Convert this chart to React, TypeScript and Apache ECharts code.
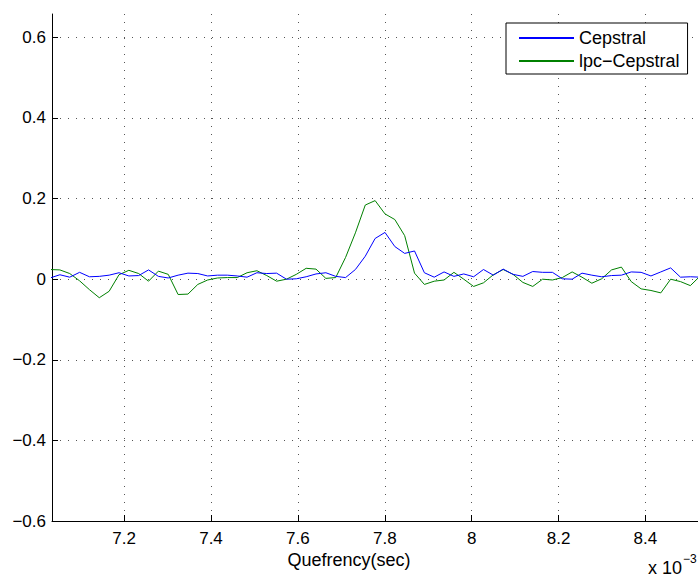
import { useEffect, useRef } from "react";
import * as echarts from "echarts";

// Sampling: quefrency = sample index / sample rate (shown in units of 10^-3 s)
const SAMPLE_RATE = 44100;
const FIRST_SAMPLE = 310;

const cepstral = [
  0.003, 0.011, 0.005, 0.017, 0.006, 0.007, 0.010, 0.016, 0.008, 0.009,
  0.023, 0.007, 0.003, 0.010, 0.015, 0.014, 0.008, 0.010, 0.010, 0.008,
  0.005, 0.016, 0.014, 0.015, 0.000, 0.001, 0.006, 0.013, 0.016, 0.007,
  0.004, 0.024, 0.057, 0.101, 0.116, 0.081, 0.064, 0.070, 0.016, 0.005,
  0.018, 0.007, 0.013, 0.006, 0.024, 0.010, 0.025, 0.012, 0.007, 0.019,
  0.017, 0.017, 0.001, 0.000, 0.015, 0.010, 0.006, 0.009, 0.010, 0.018,
  0.017, 0.008, 0.018, 0.028, 0.005, 0.006, 0.005,
];

const lpcCepstral = [
  0.024, 0.023, 0.014, -0.004, -0.026, -0.046, -0.030, 0.011, 0.022, 0.014,
  -0.005, 0.020, 0.012, -0.038, -0.037, -0.013, -0.002, 0.003, 0.004, 0.004,
  0.016, 0.021, 0.009, -0.005, 0.000, 0.012, 0.027, 0.025, 0.002, 0.004,
  0.054, 0.115, 0.184, 0.195, 0.162, 0.148, 0.108, 0.015, -0.013, -0.005,
  -0.002, 0.017, 0.000, -0.018, -0.009, 0.011, 0.024, 0.012, -0.008, -0.018,
  0.000, -0.002, 0.004, 0.018, 0.005, -0.010, 0.001, 0.023, 0.030, -0.006,
  -0.024, -0.028, -0.034, 0.000, -0.006, -0.016, 0.008,
];

const SERIES_NAMES = ["Cepstral", "lpc\u2212Cepstral"];
const X_TICKS = [7.2, 7.4, 7.6, 7.8, 8.0, 8.2, 8.4];
const Y_TICKS = [-0.6, -0.4, -0.2, 0, 0.2, 0.4, 0.6];
const X_MIN = 7.034;
const X_MAX = 8.521;
const Y_MIN = -0.6;
const Y_MAX = 0.658;
const X_LABEL = "Quefrency(sec)";
const X_MULT = "x 10";
const X_MULT_EXP = "\u22123";

const FONT = "'Liberation Sans', Arial, Helvetica, sans-serif";

function toPairs(values: number[]) {
  return values.map((v, i) => [((FIRST_SAMPLE + i) / SAMPLE_RATE) * 1000, v]);
}

function fmt(v: number) {
  const s = String(Number(v.toFixed(1)));
  return s.replace("-", "\u2212");
}

export default function App() {
  const ref = useRef<HTMLDivElement>(null);

  useEffect(() => {
    if (!ref.current) return;
    const chart = echarts.init(ref.current, undefined, { renderer: "svg" });
    const grid = "#555";
    chart.setOption({
      animation: false,
      backgroundColor: "#ffffff",
      textStyle: { fontFamily: FONT },
      grid: { left: 52, right: 0, top: 14, bottom: 56, containLabel: false },
      xAxis: {
        type: "value",
        min: X_MIN,
        max: X_MAX,
        minInterval: 0.2,
        maxInterval: 0.2,
        axisLine: { show: true, onZero: false, lineStyle: { color: "#000", width: 1 } },
        axisTick: { show: true, inside: true, length: 6, lineStyle: { color: "#000" }, customValues: X_TICKS },
        axisLabel: {
          color: "#000",
          fontSize: 17,
          fontFamily: FONT,
          margin: 9,
          showMinLabel: true,
          showMaxLabel: true,
          customValues: X_TICKS,
          formatter: (v: number) => fmt(v),
        },
        splitLine: {
          show: true,
          showMinLine: true,
          showMaxLine: true,
          lineStyle: { color: grid, width: 1, type: [1, 7] },
        },
      },
      yAxis: {
        type: "value",
        min: Y_MIN,
        max: Y_MAX,
        interval: 0.2,
        axisLine: { show: true, onZero: false, lineStyle: { color: "#000", width: 1 } },
        axisTick: { show: true, inside: true, length: 6, lineStyle: { color: "#000" }, customValues: Y_TICKS },
        axisLabel: {
          color: "#000",
          fontSize: 17,
          fontFamily: FONT,
          margin: 6,
          showMinLabel: true,
          showMaxLabel: true,
          customValues: Y_TICKS,
          formatter: (v: number) => fmt(v),
        },
        splitLine: {
          show: true,
          showMinLine: true,
          showMaxLine: true,
          lineStyle: { color: grid, width: 1, type: [1, 7] },
        },
      },
      legend: {
        orient: "vertical",
        left: 506,
        top: 23,
        padding: [6, 8, 4, 12],
        itemGap: 5,
        itemWidth: 55,
        itemHeight: 14,
        backgroundColor: "#ffffff",
        borderColor: "#000",
        borderWidth: 1,
        borderRadius: 0,
        textStyle: { color: "#000", fontSize: 18, fontFamily: FONT },
        data: SERIES_NAMES.map((n) => ({ name: n, itemStyle: { opacity: 0 } })),
      },
      graphic: [
        {
          type: "text",
          left: "center",
          top: 551,
          style: { text: X_LABEL, fontSize: 18, fontFamily: FONT, fill: "#000" },
          z: 10,
        },
        {
          type: "text",
          x: 648,
          y: 568,
          style: { text: X_MULT, fontSize: 18, fontFamily: FONT, fill: "#000", verticalAlign: "middle", align: "left" },
        },
        {
          type: "text",
          x: 683,
          y: 559,
          style: { text: X_MULT_EXP, fontSize: 12, fontFamily: FONT, fill: "#000", verticalAlign: "middle", align: "left" },
        },
      ],
      series: [
        {
          name: SERIES_NAMES[0],
          type: "line",
          data: toPairs(cepstral),
          symbol: "none",
          lineStyle: { color: "#0000ff", width: 1 },
          itemStyle: { color: "#0000ff" },
          z: 3,
        },
        {
          name: SERIES_NAMES[1],
          type: "line",
          data: toPairs(lpcCepstral),
          symbol: "none",
          lineStyle: { color: "#008000", width: 1 },
          itemStyle: { color: "#008000" },
          z: 2,
        },
      ],
    });
    return () => chart.dispose();
  }, []);

  return (
    <div
      ref={ref}
      style={{ position: "fixed", left: 0, top: 0, width: 698, height: 577, background: "#fff" }}
    />
  );
}
